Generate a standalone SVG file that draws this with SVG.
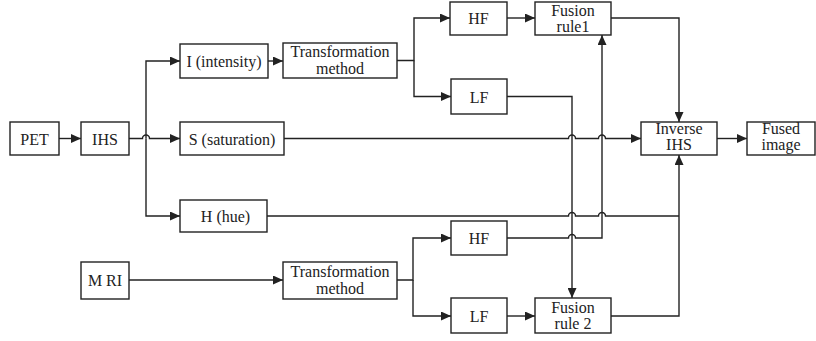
<svg xmlns="http://www.w3.org/2000/svg" width="816" height="341" viewBox="0 0 816 341">
<style>
.box{fill:#fff;stroke:#222;stroke-width:1.4}
.c{fill:none;stroke:#222;stroke-width:1.4}
text{font-family:"Liberation Serif","Times New Roman",serif;font-size:16px;fill:#222;text-anchor:middle}
</style>
<defs>
<marker id="a" markerUnits="userSpaceOnUse" markerWidth="11" markerHeight="9" refX="10" refY="4.5" orient="auto">
<path d="M0,0 L10,4.5 L0,9 z" fill="#222"/>
</marker>
</defs>
<rect width="816" height="341" fill="#fff"/>
<g id="connectors">
<path class="c" d="M59,138.5 H81" marker-end="url(#a)"/>
<path class="c" d="M129,138.5 H142.5 a3.5,3.5 0 0 1 7,0 H180" marker-end="url(#a)"/>
<path class="c" d="M146,138.5 V61 H180" marker-end="url(#a)"/>
<path class="c" d="M146,138.5 V216 H180" marker-end="url(#a)"/>
<path class="c" d="M268,61 H283" marker-end="url(#a)"/>
<path class="c" d="M397,60.5 H414 V18 H450" marker-end="url(#a)"/>
<path class="c" d="M414,60.5 V96.5 H451" marker-end="url(#a)"/>
<path class="c" d="M507,18 H535" marker-end="url(#a)"/>
<path class="c" d="M611,18 H679 V122" marker-end="url(#a)"/>
<path class="c" d="M507,96.5 H572 V298" marker-end="url(#a)"/>
<path class="c" d="M284,138.5 H568.5 a3.5,3.5 0 0 1 7,0 H598.5 a3.5,3.5 0 0 1 7,0 H641" marker-end="url(#a)"/>
<path class="c" d="M267,216 H568.5 a3.5,3.5 0 0 1 7,0 H598.5 a3.5,3.5 0 0 1 7,0 H679"/>
<path class="c" d="M129,280 H283" marker-end="url(#a)"/>
<path class="c" d="M397,280 H413 V238 H451" marker-end="url(#a)"/>
<path class="c" d="M413,280 V316 H451" marker-end="url(#a)"/>
<path class="c" d="M507,238 H568.5 a3.5,3.5 0 0 1 7,0 H602 V35" marker-end="url(#a)"/>
<path class="c" d="M507,316 H535" marker-end="url(#a)"/>
<path class="c" d="M611,316 H679 V155" marker-end="url(#a)"/>
<path class="c" d="M717,138.5 H747" marker-end="url(#a)"/>
</g>
<g id="pet"><rect class="box" x="10" y="122" width="49" height="33"/><text x="34.5" y="144.5">PET</text></g>
<g id="ihs"><rect class="box" x="81" y="122" width="48" height="33"/><text x="105" y="144.5">IHS</text></g>
<g id="intensity"><rect class="box" x="180" y="44" width="88" height="34"/><text x="224" y="67">I (intensity)</text></g>
<g id="saturation"><rect class="box" x="180" y="122" width="104" height="33"/><text x="232" y="144.5">S (saturation)</text></g>
<g id="hue"><rect class="box" x="180" y="200" width="87" height="32"/><text x="225.5" y="221.5">H (hue)</text></g>
<g id="mri"><rect class="box" x="81" y="262" width="48" height="37"/><text x="105" y="286">M RI</text></g>
<g id="tm1"><rect class="box" x="283" y="43" width="114" height="35"/><text x="340" y="57">Transformation</text><text x="340" y="74">method</text></g>
<g id="hf1"><rect class="box" x="450" y="2" width="57" height="33"/><text x="478.5" y="24">HF</text></g>
<g id="lf1"><rect class="box" x="451" y="79" width="56" height="35"/><text x="479" y="102.5">LF</text></g>
<g id="fusion1"><rect class="box" x="535" y="2" width="76" height="33"/><text x="573" y="16">Fusion</text><text x="573" y="32">rule1</text></g>
<g id="inverse"><rect class="box" x="641" y="122" width="76" height="33"/><text x="679" y="133.5">Inverse</text><text x="679" y="149.5">IHS</text></g>
<g id="fused"><rect class="box" x="747" y="122" width="68" height="33"/><text x="781" y="133.5">Fused</text><text x="781" y="149.5">image</text></g>
<g id="tm2"><rect class="box" x="283" y="262" width="114" height="37"/><text x="340" y="277">Transformation</text><text x="340" y="294">method</text></g>
<g id="hf2"><rect class="box" x="451" y="221" width="56" height="34"/><text x="479" y="244">HF</text></g>
<g id="lf2"><rect class="box" x="451" y="298" width="56" height="35"/><text x="479" y="321.5">LF</text></g>
<g id="fusion2"><rect class="box" x="535" y="298" width="76" height="35"/><text x="573" y="312.5">Fusion</text><text x="573" y="328.5">rule 2</text></g>
</svg>
